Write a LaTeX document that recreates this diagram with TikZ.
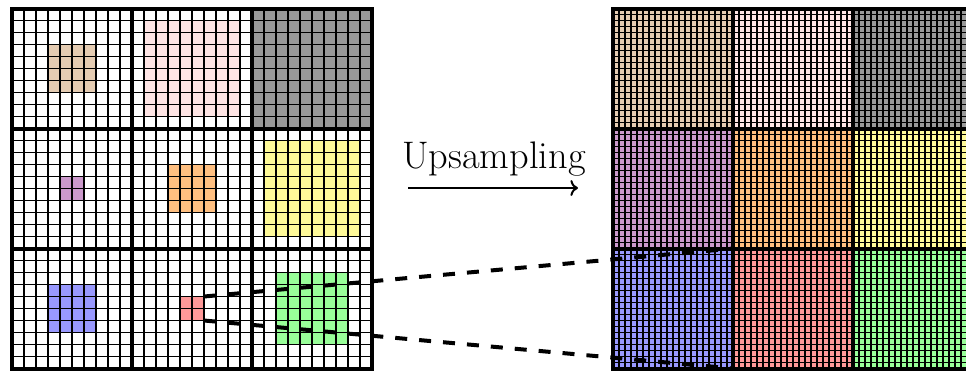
\documentclass[tikz,border=0pt]{standalone}
\usetikzlibrary{arrows.meta}
\begin{document}
\begin{tikzpicture}[x=0.5pt,y=-0.5pt,
  finel/.style={line width=0.6pt,black},
  finer/.style={line width=0.65pt,black},
  thickl/.style={line width=2pt,black},
  sq/.style={draw=black,line width=0.6pt,inner sep=0pt,outer sep=0pt,anchor=north west,minimum size=#1},
  blk/.style={inner sep=0pt,outer sep=0pt,anchor=north west,minimum size=60pt},
  dashl/.style={line width=2pt,dash pattern=on 6pt off 6pt},
]
\useasboundingbox (0,0) rectangle (966,372);
% ---------- left panel: coloured squares ----------
\node[sq=24pt,fill=brown!40]  (tan)    at (48,44.5) {};
\node[sq=48pt,fill=red!10]    (pink)   at (144,20.5) {};
\node[sq=60pt,fill=black!40]  (grey)   at (252,8.5) {};
\node[sq=12pt,fill=violet!40] (purple) at (60,176.5) {};
\node[sq=24pt,fill=orange!50] (orng)   at (168,164.5) {};
\node[sq=48pt,fill=yellow!40] (yell)   at (264,140.5) {};
\node[sq=24pt,fill=blue!40]   (blu)    at (48,284.5) {};
\node[sq=12pt,fill=red!40]    (rd)     at (180,296.5) {};
\node[sq=36pt,fill=green!40]  (grn)    at (276,272.5) {};
% left fine grid
\foreach \i in {0,...,30} {
  \draw[finel] (12+12*\i,8.5) -- (12+12*\i,368.5);
  \draw[finel] (12,8.5+12*\i) -- (372,8.5+12*\i);
}
\foreach \i in {1,2} {
  \draw[thickl] (12+120*\i,8.5) -- (12+120*\i,368.5);
  \draw[thickl] (12,8.5+120*\i) -- (372,8.5+120*\i);
}
\draw[thickl] (12,8.5) rectangle (372,368.5);
% ---------- right panel ----------
\begin{scope}
\clip (0,0) rectangle (966,372);
\node[blk,fill=brown!40]  (Rtan)    at (613,8.5) {};
\node[blk,fill=red!10]    (Rpink)   at (733,8.5) {};
\node[blk,fill=black!40]  (Rgrey)   at (853,8.5) {};
\node[blk,fill=violet!40] (Rpurple) at (613,128.5) {};
\node[blk,fill=orange!50] (Rorng)   at (733,128.5) {};
\node[blk,fill=yellow!40] (Ryell)   at (853,128.5) {};
\node[blk,fill=blue!40]   (Rblu)    at (613,248.5) {};
\node[blk,fill=red!40]    (Rrd)     at (733,248.5) {};
\node[blk,fill=green!40]  (Rgrn)    at (853,248.5) {};
\foreach \i in {0,...,60} {
  \draw[finer] (613+6*\i,8.5) -- (613+6*\i,368.5);
  \draw[finer] (613,8.5+6*\i) -- (973,8.5+6*\i);
}
\foreach \i in {1,2} {
  \draw[thickl] (613+120*\i,8.5) -- (613+120*\i,368.5);
  \draw[thickl] (613,8.5+120*\i) -- (973,8.5+120*\i);
}
\draw[thickl] (613,8.5) rectangle (973,368.5);
\end{scope}
% ---------- arrow and label ----------
\node[font=\fontsize{19.2}{23}\selectfont,inner sep=0pt] (lbl) at (494,159) {Upsampling};
\coordinate (a1) at (408,188);
\coordinate (a2) at (578,188);
\draw[line width=1pt,->] (a1) -- (a2);
% ---------- dashed zoom lines ----------
\draw[dashl] (rd.north east) -- (Rblu.north east);
\draw[dashl] (rd.south east) -- (Rblu.south east);
\end{tikzpicture}
\end{document}
